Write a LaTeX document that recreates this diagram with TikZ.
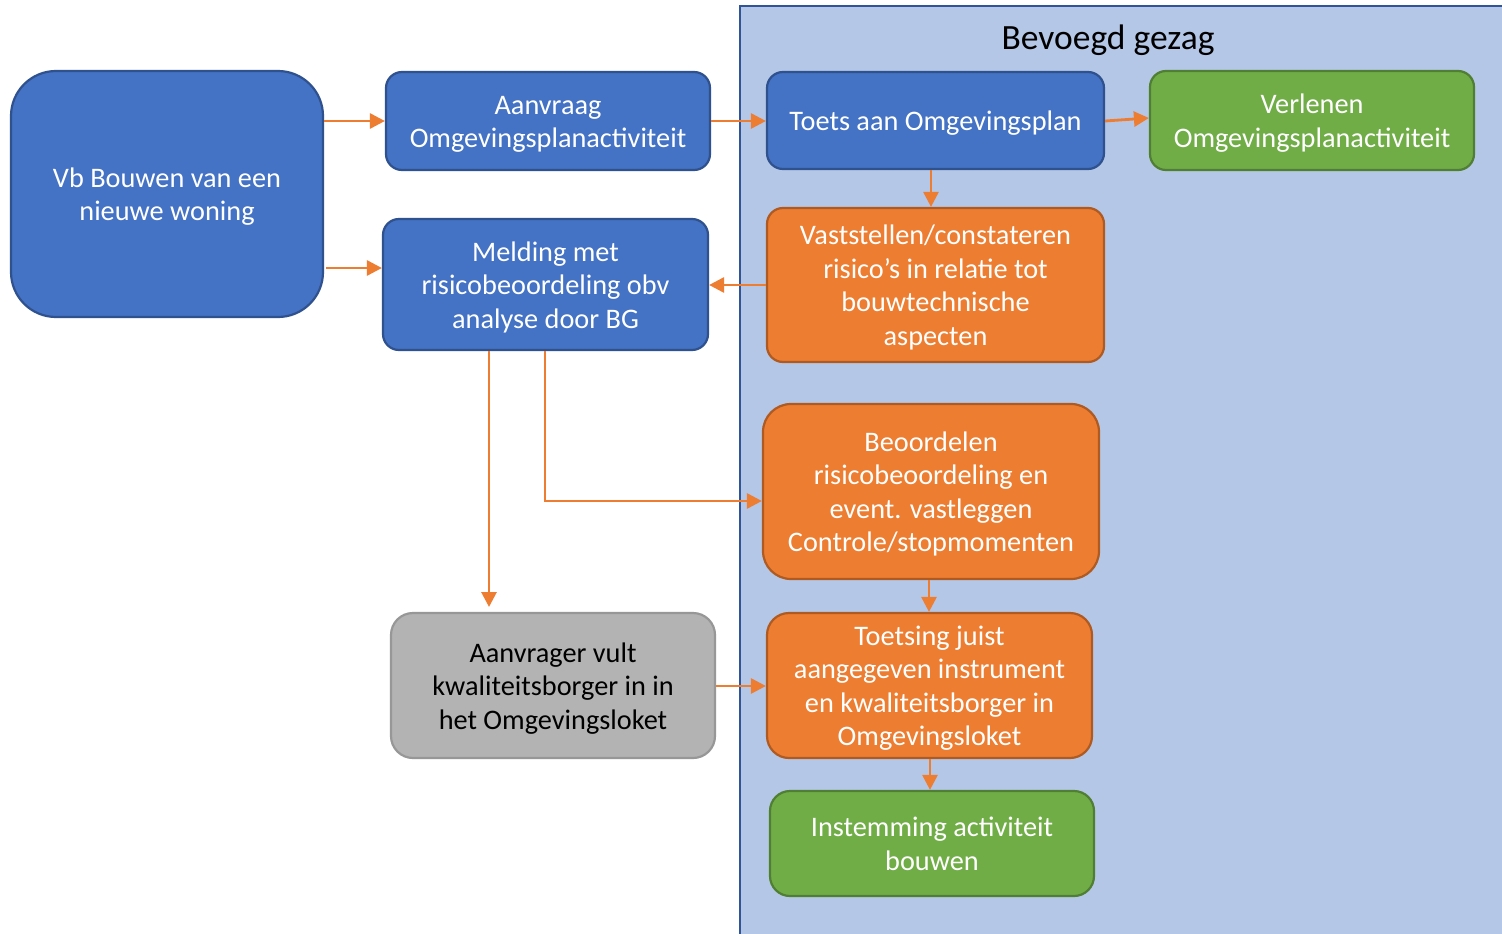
\documentclass[tikz,border=0pt]{standalone}
\usepackage{fontspec}
\setmainfont{Carlito}
\usetikzlibrary{arrows.meta}
\definecolor{bfill}{HTML}{4472C4}
\definecolor{bline}{HTML}{2F528F}
\definecolor{ofill}{HTML}{ED7D31}
\definecolor{oline}{HTML}{AE5A21}
\definecolor{gfill}{HTML}{70AD47}
\definecolor{gline}{HTML}{507E32}
\definecolor{greyfill}{HTML}{B3B3B3}
\definecolor{greyline}{HTML}{979797}
\definecolor{zone}{HTML}{B4C7E7}
\definecolor{zoneline}{HTML}{2F5597}
\newcommand\mytopstrut{\rule{0pt}{26pt}}
\newcommand\mybotstrut{\rule[-6pt]{0pt}{6pt}}
\begin{document}
\begin{tikzpicture}[x=1pt,y=-1pt,
  box/.style={rectangle, rounded corners=16pt, line width=2.2pt, align=center, inner sep=0pt,
    font=\fontsize{28.3}{33.5}\selectfont},
  bluebox/.style={box, fill=bfill, draw=bline, text=white},
  orangebox/.style={box, fill=ofill, draw=oline, text=white},
  greenbox/.style={box, fill=gfill, draw=gline, text=white},
  greybox/.style={box, fill=greyfill, draw=greyline, text=black},
  arr/.style={draw=ofill, line width=2.8pt, -{Triangle[length=15pt,width=15pt]}}
]
\useasboundingbox (0,0) rectangle (1502,934);
\fill[white] (0,0) rectangle (1502,934);
% container
\draw[fill=zone, draw=zoneline, line width=2.5pt] (740,6) rectangle (1520,950);
\node[font=\fontsize{35.5}{40}\selectfont, text=black] (title) at (1108,40) {Bevoegd gezag};

\node[bluebox, rounded corners=45pt, minimum width=312pt, minimum height=246pt] (vb) at (167,194) {\mytopstrut Vb Bouwen van een\\nieuwe woning\mybotstrut};
\node[bluebox, minimum width=324pt, minimum height=98pt] (aanvraag) at (548,121) {\mytopstrut Aanvraag\\Omgevingsplanactiviteit\mybotstrut};
\node[bluebox, minimum width=337pt, minimum height=97pt] (toets) at (935.5,120.5) {\mytopstrut Toets aan Omgevingsplan\mybotstrut};
\node[greenbox, minimum width=324pt, minimum height=99pt] (verlenen) at (1312,120.5) {\mytopstrut Verlenen\\Omgevingsplanactiviteit\mybotstrut};
\node[orangebox, minimum width=337pt, minimum height=154pt] (vast) at (935.5,285) {\mytopstrut Vaststellen/constateren\\risico’s in relatie tot\\bouwtechnische\\aspecten\mybotstrut};
\node[bluebox, minimum width=325pt, minimum height=131pt] (melding) at (545.5,284.5) {\mytopstrut Melding met\\risicobeoordeling obv\\analyse door BG\mybotstrut};
\node[orangebox, rounded corners=28pt, minimum width=336pt, minimum height=175pt] (beoord) at (931,491.5) {\mytopstrut Beoordelen\\risicobeoordeling en\\event. vastleggen\\Controle/stopmomenten\mybotstrut};
\node[greybox, rounded corners=22pt, minimum width=324pt, minimum height=145pt] (aanvrager) at (553,685.5) {\mytopstrut Aanvrager vult\\kwaliteitsborger in in\\het Omgevingsloket\mybotstrut};
\node[orangebox, rounded corners=22pt, minimum width=325pt, minimum height=145pt] (toetsing) at (929.5,685.5) {\mytopstrut Toetsing juist\\aangegeven instrument\\en kwaliteitsborger in\\Omgevingsloket\mybotstrut};
\node[greenbox, rounded corners=20pt, minimum width=324pt, minimum height=105pt] (instem) at (932,843.5) {\mytopstrut Instemming activiteit\\bouwen\mybotstrut};

\coordinate (m1) at (489,607);
\coordinate (m2) at (545,501);

\draw[arr] (vb.east |- 0,121) -- (aanvraag.west |- 0,121);
\draw[arr] ([xshift=2pt]vb.east |- 0,268) -- (melding.west |- 0,268);
\draw[arr] (aanvraag.east |- 0,121) -- (toets.west |- 0,121);
\draw[arr] (toets.east |- 0,121) -- (verlenen.west |- 0,118);
\draw[arr] (toets.south -| 931,0) -- (vast.north -| 931,0);
\draw[arr] (vast.west |- 0,285) -- (melding.east |- 0,285);
\draw[arr] (melding.south -| m1) -- (m1);
\draw[arr] (melding.south -| m2) -- (m2) -- (beoord.west |- m2);
\draw[arr] (beoord.south -| 929,0) -- (toetsing.north -| 929,0);
\draw[arr] (aanvrager.east |- 0,686) -- (toetsing.west |- 0,686);
\draw[arr] (toetsing.south -| 930,0) -- (instem.north -| 930,0);
\end{tikzpicture}
\end{document}
